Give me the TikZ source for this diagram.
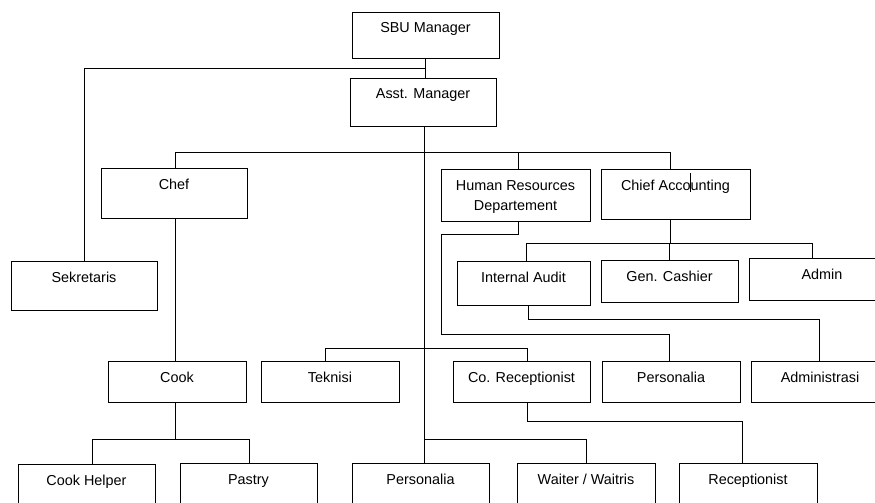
\documentclass[tikz,border=0pt]{standalone}
\usepackage{fontspec}
\setmainfont{Liberation Sans}
\usetikzlibrary{calc}
\tikzset{
  boxst/.style={draw=black, line width=0.8pt, rectangle, inner sep=0pt, outer sep=0pt, anchor=north west},
  lblst/.style={inner sep=0pt, anchor=base, font=\fontsize{14.4}{20}\selectfont, align=center},
  conn/.style={draw=black, line width=0.8pt}
}
% name, x1, y1, x2, y2, text
\newcommand\obox[6]{%
  \node[boxst, minimum width={(#4-#2)*1pt}, minimum height={(#5-#3)*1pt}] (#1) at (#2,#3) {};
  \node[lblst] (#1-t) at ($(#1.north)+(0,21)$) {#6};
}
\begin{document}
\begin{tikzpicture}[x=1pt, y=-1pt]
\useasboundingbox (0,0) rectangle (875,503);
\clip (0,0) rectangle (875,503);
\fill[white] (0,0) rectangle (875,503);

\obox{sbu}{352}{12}{499}{58}{SBU Manager}
\obox{asst}{350}{78}{496}{126}{Asst. Manager}
\obox{chef}{101}{168}{247}{218}{Chef}
\obox{sek}{11}{261}{157}{310}{Sekretaris}
\node[boxst, minimum width=149pt, minimum height=52pt] (hr) at (441,169) {};
\node[lblst, anchor=center] (hr-t) at ($(hr.north)+(0,28)$) {Human Resources\\Departement};
\obox{ca}{601}{169}{750}{219}{Chief Accounting}
\obox{ia}{457}{261}{590}{305}{Internal Audit}
\obox{gc}{601}{260}{738}{302}{Gen. Cashier}
\obox{admin}{749}{258}{895}{300}{Admin}
\obox{cook}{108}{361}{246}{402}{Cook}
\obox{tek}{261}{361}{399}{402}{Teknisi}
\obox{corec}{453}{361}{590}{402}{Co. Receptionist}
\obox{persa}{602}{361}{740}{402}{Personalia}
\obox{adm}{751}{361}{889}{402}{Administrasi}
\obox{ch}{18}{464}{155}{512}{Cook Helper}
\obox{pastry}{180}{463}{317}{512}{Pastry}
\obox{persb}{352}{463}{489}{512}{Personalia}
\obox{waiter}{517}{463}{655}{512}{Waiter / Waitris}
\obox{recep}{679}{463}{817}{512}{Receptionist}

% junction coordinates
\coordinate (y68) at (0,68);
\coordinate (y152) at (0,152);
\coordinate (y243) at (0,243);
\coordinate (y348) at (0,348);
\coordinate (y439) at (0,439);

% SBU -> Asst
\draw[conn] ([xshift=-0.5pt]sbu.south) -- ([xshift=-0.5pt]sbu.south |- asst.north);
% SBU -> Sekretaris
\draw[conn] ([xshift=-0.5pt]sbu.south |- y68) -| (sek.north);
% main vertical Asst -> Personalia (bottom)
\draw[conn] ([xshift=1pt]asst.south) -- ([xshift=1pt]asst.south |- persb.north);
% top bus
\draw[conn] ([xshift=1pt]chef.north) |- ([xshift=-5.5pt]ca.north |- y152) -- ([xshift=-5.5pt]ca.north);
\draw[conn] ([xshift=2.5pt]hr.north |- y152) -- ([xshift=2.5pt]hr.north);
% stray mark in Chief Accounting
\coordinate (stray) at ([xshift=14.5pt, yshift=-4pt]ca.north);
\draw[conn] (stray) -- ++(0,19);
% Chef -> Cook
\draw[conn] ([xshift=1pt]chef.south) -- ([xshift=1pt]chef.south |- cook.north);
% Chief Accounting -> IA, GC, Admin
\draw[conn] ([xshift=-5.5pt]ca.south) -- ([xshift=-5.5pt]ca.south |- y243);
\draw[conn] ([xshift=2.5pt]ia.north) |- ([xshift=-10pt]admin.north |- y243) -- ([xshift=-10pt]admin.north);
\draw[conn] (gc.north |- y243) -- (gc.north);
% HR -> Personalia (mid)
\coordinate (hrb) at ($(hr.south)+(2.5,13)$);
\draw[conn] ([xshift=2.5pt]hr.south) -- (hrb) -- (hr.west |- hrb) -- ($(hr.west |- hrb)+(0,100)$) -| ([xshift=-2pt]persa.north);
% Internal Audit -> Administrasi
\draw[conn] ([xshift=4.5pt]ia.south) |- ($(adm.north)+(-1,-42)$) -- ([xshift=-1pt]adm.north);
% mid bus -> Teknisi, Co. Receptionist
\draw[conn] ([xshift=-5pt]tek.north) |- ([xshift=5.5pt]corec.north |- y348) -- ([xshift=5.5pt]corec.north);
% Co. Receptionist -> Receptionist
\draw[conn] ([xshift=5.5pt]corec.south) |- ($(recep.north)+(-6,-42)$) -- ([xshift=-6pt]recep.north);
% Cook -> Cook Helper, Pastry
\draw[conn] ([xshift=-2pt]cook.south) -- ([xshift=-2pt]cook.south |- y439);
\draw[conn] ([xshift=5.5pt]ch.north) |- ([xshift=0.5pt]pastry.north |- y439) -- ([xshift=0.5pt]pastry.north);
% main vertical -> Waiter
\draw[conn] ([xshift=1pt]asst.south |- y439) -| (waiter.north);
\end{tikzpicture}
\end{document}
